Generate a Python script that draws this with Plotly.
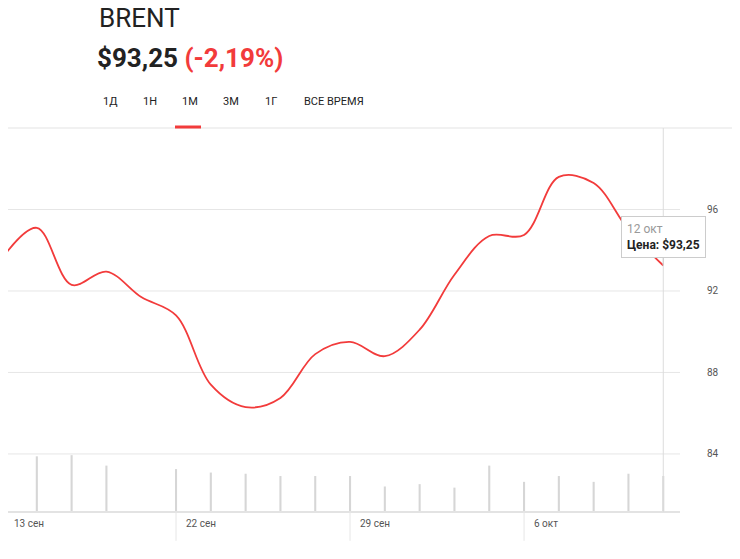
import plotly.graph_objects as go

idx = list(range(20))
prices = [93.6, 95.1, 92.3, 92.95, 91.7, 90.8, 87.4, 86.3, 86.75, 88.9,
          89.5, 88.8, 90.1, 92.8, 94.7, 94.75, 97.6, 97.3, 95.0, 93.25]
volumes = [39, 48, 49, 40, 0, 37, 34, 33, 31, 31, 31, 22, 24, 21, 40, 26, 31, 26, 33, 31]
date_pos = [0, 5, 10, 15]
date_labels = ["13 сен", "22 сен", "29 сен", "6 окт"]
yticks = [84, 88, 92, 96]

W = 657.0  # plot width in px
def px(x):
    return (x - 8) / W
def py(y):
    return 1 + (128 - y) / 384

fig = go.Figure()
fig.add_trace(go.Bar(x=idx, y=volumes, yaxis="y2", width=0.06,
                     marker=dict(color="#d6d6d6", line_width=0), hoverinfo="skip"))
fig.add_trace(go.Scatter(x=idx, y=prices, mode="lines", cliponaxis=False,
                         line=dict(color="#f23b3b", width=1.8, shape="spline", smoothing=1.0)))

X0, X1 = 0.172, 19.05
for t in yticks:
    fig.add_shape(type="line", xref="paper", yref="y", x0=0, x1=px(680), y0=t, y1=t,
                  line=dict(color="#e6e6e6", width=1), layer="below")
    fig.add_annotation(xref="paper", yref="y", x=1.0, y=t, text=str(t), showarrow=False,
                       xanchor="left", xshift=40, font=dict(size=10, color="#555"))
fig.add_shape(type="line", xref="paper", yref="paper", x0=0, x1=1.2, y0=1, y1=1,
              line=dict(color="#e3e3e3", width=1))
fig.add_shape(type="line", xref="paper", yref="paper", x0=0, x1=px(680), y0=0, y1=0,
              line=dict(color="#e3e3e3", width=2))
for p, lab in zip(date_pos, date_labels):
    fig.add_shape(type="line", xref="x", yref="paper", x0=p, x1=p, y0=0, y1=-0.075,
                  line=dict(color="#e6e6e6", width=1))
    fig.add_annotation(xref="x", yref="paper", x=max(p, X0), y=-0.05, text=lab, showarrow=False,
                       xanchor="left", xshift=4 if p == 0 else 8, font=dict(size=10, color="#555"))
fig.add_shape(type="line", xref="x", yref="paper", x0=19, x1=19, y0=0, y1=1,
              line=dict(color="#dcdcdc", width=1))

# tooltip
fig.add_annotation(xref="x", yref="y", x=19, y=prices[-1], ax=0, ay=-8,
                   text="<span style='color:#999'>12 окт</span><br><b>Цена: $93,25</b>",
                   align="left", showarrow=True, arrowcolor="#ccc", arrowhead=0, arrowwidth=1,
                   bgcolor="white", bordercolor="#ccc", borderwidth=1, borderpad=5,
                   font=dict(size=12, color="#222"), xanchor="center", yanchor="bottom")

# header
fig.add_annotation(xref="paper", yref="paper", x=px(97), y=py(18), text="BRENT",
                   showarrow=False, xanchor="left", yanchor="middle",
                   font=dict(size=26, color="#222", family="Roboto"))
fig.add_annotation(xref="paper", yref="paper", x=px(95), y=py(58),
                   text="<b>$93,25</b> <b><span style='color:#f23b3b'>(-2,19%)</span></b>",
                   showarrow=False, xanchor="left", yanchor="middle",
                   font=dict(size=26, color="#222", family="Roboto"))
tabs = [("1Д", 101), ("1Н", 141), ("1М", 180), ("3М", 221), ("1Г", 263), ("ВСЕ ВРЕМЯ", 302)]
for t, xp in tabs:
    fig.add_annotation(xref="paper", yref="paper", x=px(xp), y=py(101), text=t,
                       showarrow=False, xanchor="left", yanchor="middle",
                       font=dict(size=11, color="#222", family="Roboto"))
fig.add_shape(type="line", xref="paper", yref="paper", x0=px(175), x1=px(201),
              y0=py(127), y1=py(127), line=dict(color="#f23b3b", width=3))

fig.update_layout(
    width=740, height=559, margin=dict(l=0, r=83, t=120, b=55),
    paper_bgcolor="white", plot_bgcolor="white", showlegend=False,
    xaxis=dict(range=[X0, X1], showgrid=False, zeroline=False, showticklabels=False),
    yaxis=dict(range=[81.15, 100], showgrid=False, zeroline=False, showticklabels=False),
    yaxis2=dict(range=[0, 331], overlaying="y", showgrid=False, zeroline=False,
                showticklabels=False),
    font=dict(family="Roboto"),
)
fig.write_html("out.html")
